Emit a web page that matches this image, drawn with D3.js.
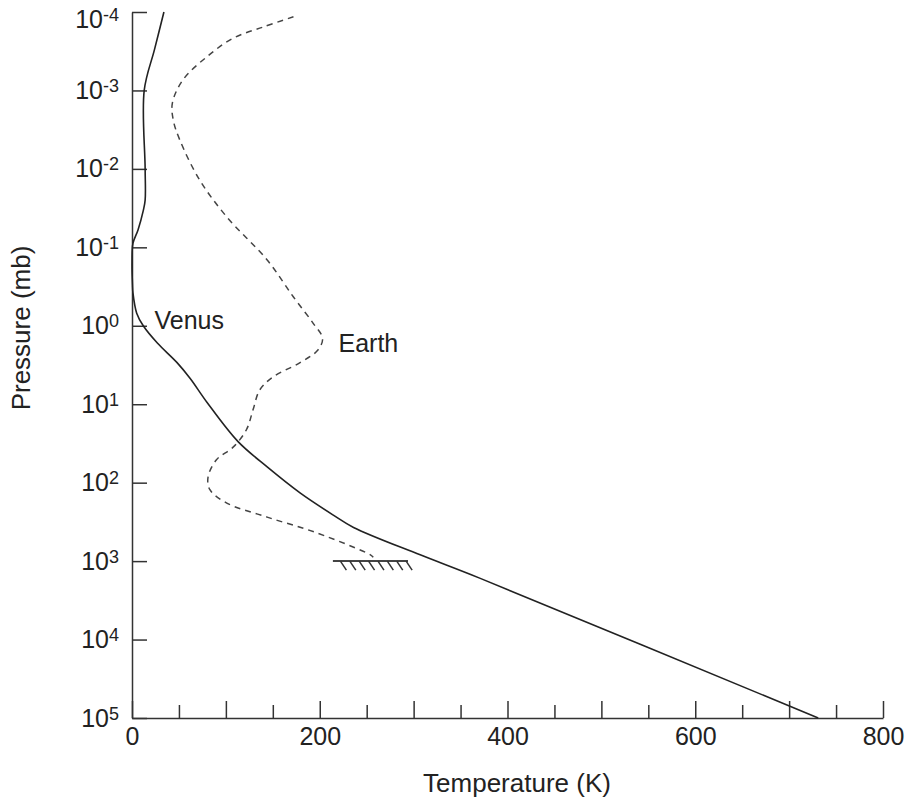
<!DOCTYPE html>
<html>
<head>
<meta charset="utf-8">
<script src="https://cdn.jsdelivr.net/npm/d3@7"></script>
<style>
  body { margin: 0; background: #fff; }
  text { font-family: "Liberation Sans", Arial, sans-serif; fill: #222; }
</style>
</head>
<body>
<div id="chart"><svg width="912" height="802"></svg></div>
<script>
// temperature (K) vs pressure (mb)
const venusP = [1e-4, 3.0e-4, 1e-3, 1e-2, 0.025, 0.034, 0.06, 0.089, 0.155, 0.3, 0.38, 0.69, 1.0, 1.66, 2.95, 4.7, 9.5, 30, 63, 135, 257, 372, 832, 1660, 1e5];
const venusT = [34, 24, 13, 14, 14, 12, 6.4, 1, 0, 0.5, 1, 5, 12, 27, 48, 62, 80, 113, 144, 179, 214, 236, 307, 371, 731];

const earthP = [1.15e-4, 1.55e-4, 2.15e-4, 3.7e-4, 7.4e-4, 1.45e-3, 2.4e-3, 4.3e-3, 0.0138, 0.041, 0.145, 0.43, 0.93, 1.45, 2.04, 2.95, 4.5, 6.6, 11.7, 21, 35, 51, 85, 123, 182, 275, 437, 832, 890];
const earthT = [172, 140, 108, 80, 54, 43, 44, 51, 72, 101, 144, 172, 193, 203, 198, 179, 150, 136, 129, 122, 108, 90, 81, 83, 101, 144, 197, 254, 257];

// surface marker of the Earth profile
const groundP = 1000;
const groundT = [214, 294];
const hatchT = [222, 232, 242, 252, 262, 272, 282, 292];

const xMajor = [0, 100, 200, 300, 400, 500, 600, 700, 800];
const xMinor = [50, 150, 250, 350, 450, 550, 650, 750];
const xLabels = [0, 200, 400, 600, 800];
const yTicks = [1e-4, 1e-3, 1e-2, 1e-1, 1e0, 1e1, 1e2, 1e3, 1e4, 1e5];

const curveLabels = [
  { name: "Venus", T: 24, P: 1.1 },
  { name: "Earth", T: 220, P: 2.16 }
];

const svg = d3.select("#chart svg");
const margin = { left: 132, right: 29, top: 12, bottom: 84 };
const width = +svg.attr("width");
const height = +svg.attr("height");

const x = d3.scaleLinear().domain([0, 800]).range([margin.left, width - margin.right]);
const y = d3.scaleLog().domain([1e-4, 1e5]).range([margin.top, height - margin.bottom]);

const ink = "#333";

// x axis: minor ticks then major ticks with labels
svg.append("g")
    .attr("transform", `translate(0,${y(1e5)})`)
    .call(d3.axisBottom(x).tickValues(xMinor).tickSizeInner(-13).tickSizeOuter(0).tickFormat(""))
    .call(g => g.select(".domain").remove());

svg.append("g")
    .attr("class", "x-axis")
    .attr("transform", `translate(0,${y(1e5)})`)
    .call(d3.axisBottom(x).tickValues(xMajor).tickSizeInner(-17).tickSizeOuter(0).tickPadding(9)
        .tickFormat(d => xLabels.includes(d) ? d : ""))
    .call(g => g.selectAll("text").style("font-size", "25px").attr("fill", "#222"));

// y axis with 10^n labels
const yAxisG = svg.append("g")
    .attr("class", "y-axis")
    .attr("transform", `translate(${x(0)},0)`)
    .call(d3.axisLeft(y).tickValues(yTicks).tickSizeInner(-15).tickSizeOuter(0).tickPadding(13).tickFormat(""));

yAxisG.selectAll(".tick text").each(function(d, i) {
    // top label sits a little lower, as in the figure
    const t = d3.select(this).style("font-size", "25px").attr("fill", "#222")
        .attr("dy", i === 0 ? "0.6em" : "0.32em");
    const e = Math.round(Math.log10(d));
    t.append("tspan").text("10");
    t.append("tspan").attr("dy", -7).style("font-size", "18px").text(e < 0 ? "-" + (-e) : e);
});

svg.selectAll(".domain, .tick line").attr("stroke", ink).attr("stroke-width", 1.5);

// curves
const venus = venusP.map((p, i) => ({ P: p, T: venusT[i] }));
const earth = earthP.map((p, i) => ({ P: p, T: earthT[i] }));

const line = d3.line()
    .x(d => x(d.T))
    .y(d => y(d.P))
    .curve(d3.curveCatmullRom.alpha(0.5));

svg.append("path")
    .datum(venus)
    .attr("d", line)
    .attr("fill", "none")
    .attr("stroke", "#222")
    .attr("stroke-width", 1.6);

svg.append("path")
    .datum(earth)
    .attr("d", line)
    .attr("fill", "none")
    .attr("stroke", "#444")
    .attr("stroke-width", 1.5)
    .attr("stroke-dasharray", "6,5");

// ground
svg.append("line")
    .attr("x1", x(groundT[0])).attr("x2", x(groundT[1]))
    .attr("y1", y(groundP)).attr("y2", y(groundP))
    .attr("stroke", "#444").attr("stroke-width", 2);

svg.selectAll(".hatch")
    .data(hatchT)
    .enter()
    .append("line")
    .attr("class", "hatch")
    .attr("x1", d => x(d)).attr("y1", y(groundP))
    .attr("x2", d => x(d) + 6).attr("y2", y(groundP) + 9)
    .attr("stroke", "#333").attr("stroke-width", 1.5);

// curve labels
svg.selectAll(".curve-label")
    .data(curveLabels)
    .enter()
    .append("text")
    .attr("class", "curve-label")
    .attr("x", d => x(d.T))
    .attr("y", d => y(d.P))
    .style("font-size", "25px")
    .text(d => d.name);

// axis titles
svg.append("text")
    .attr("x", 517)
    .attr("y", 792)
    .attr("text-anchor", "middle")
    .style("font-size", "26px")
    .text("Temperature (K)");

svg.append("text")
    .attr("transform", "translate(30,328) rotate(-90)")
    .attr("text-anchor", "middle")
    .style("font-size", "26px")
    .text("Pressure (mb)");
</script>
</body>
</html>
